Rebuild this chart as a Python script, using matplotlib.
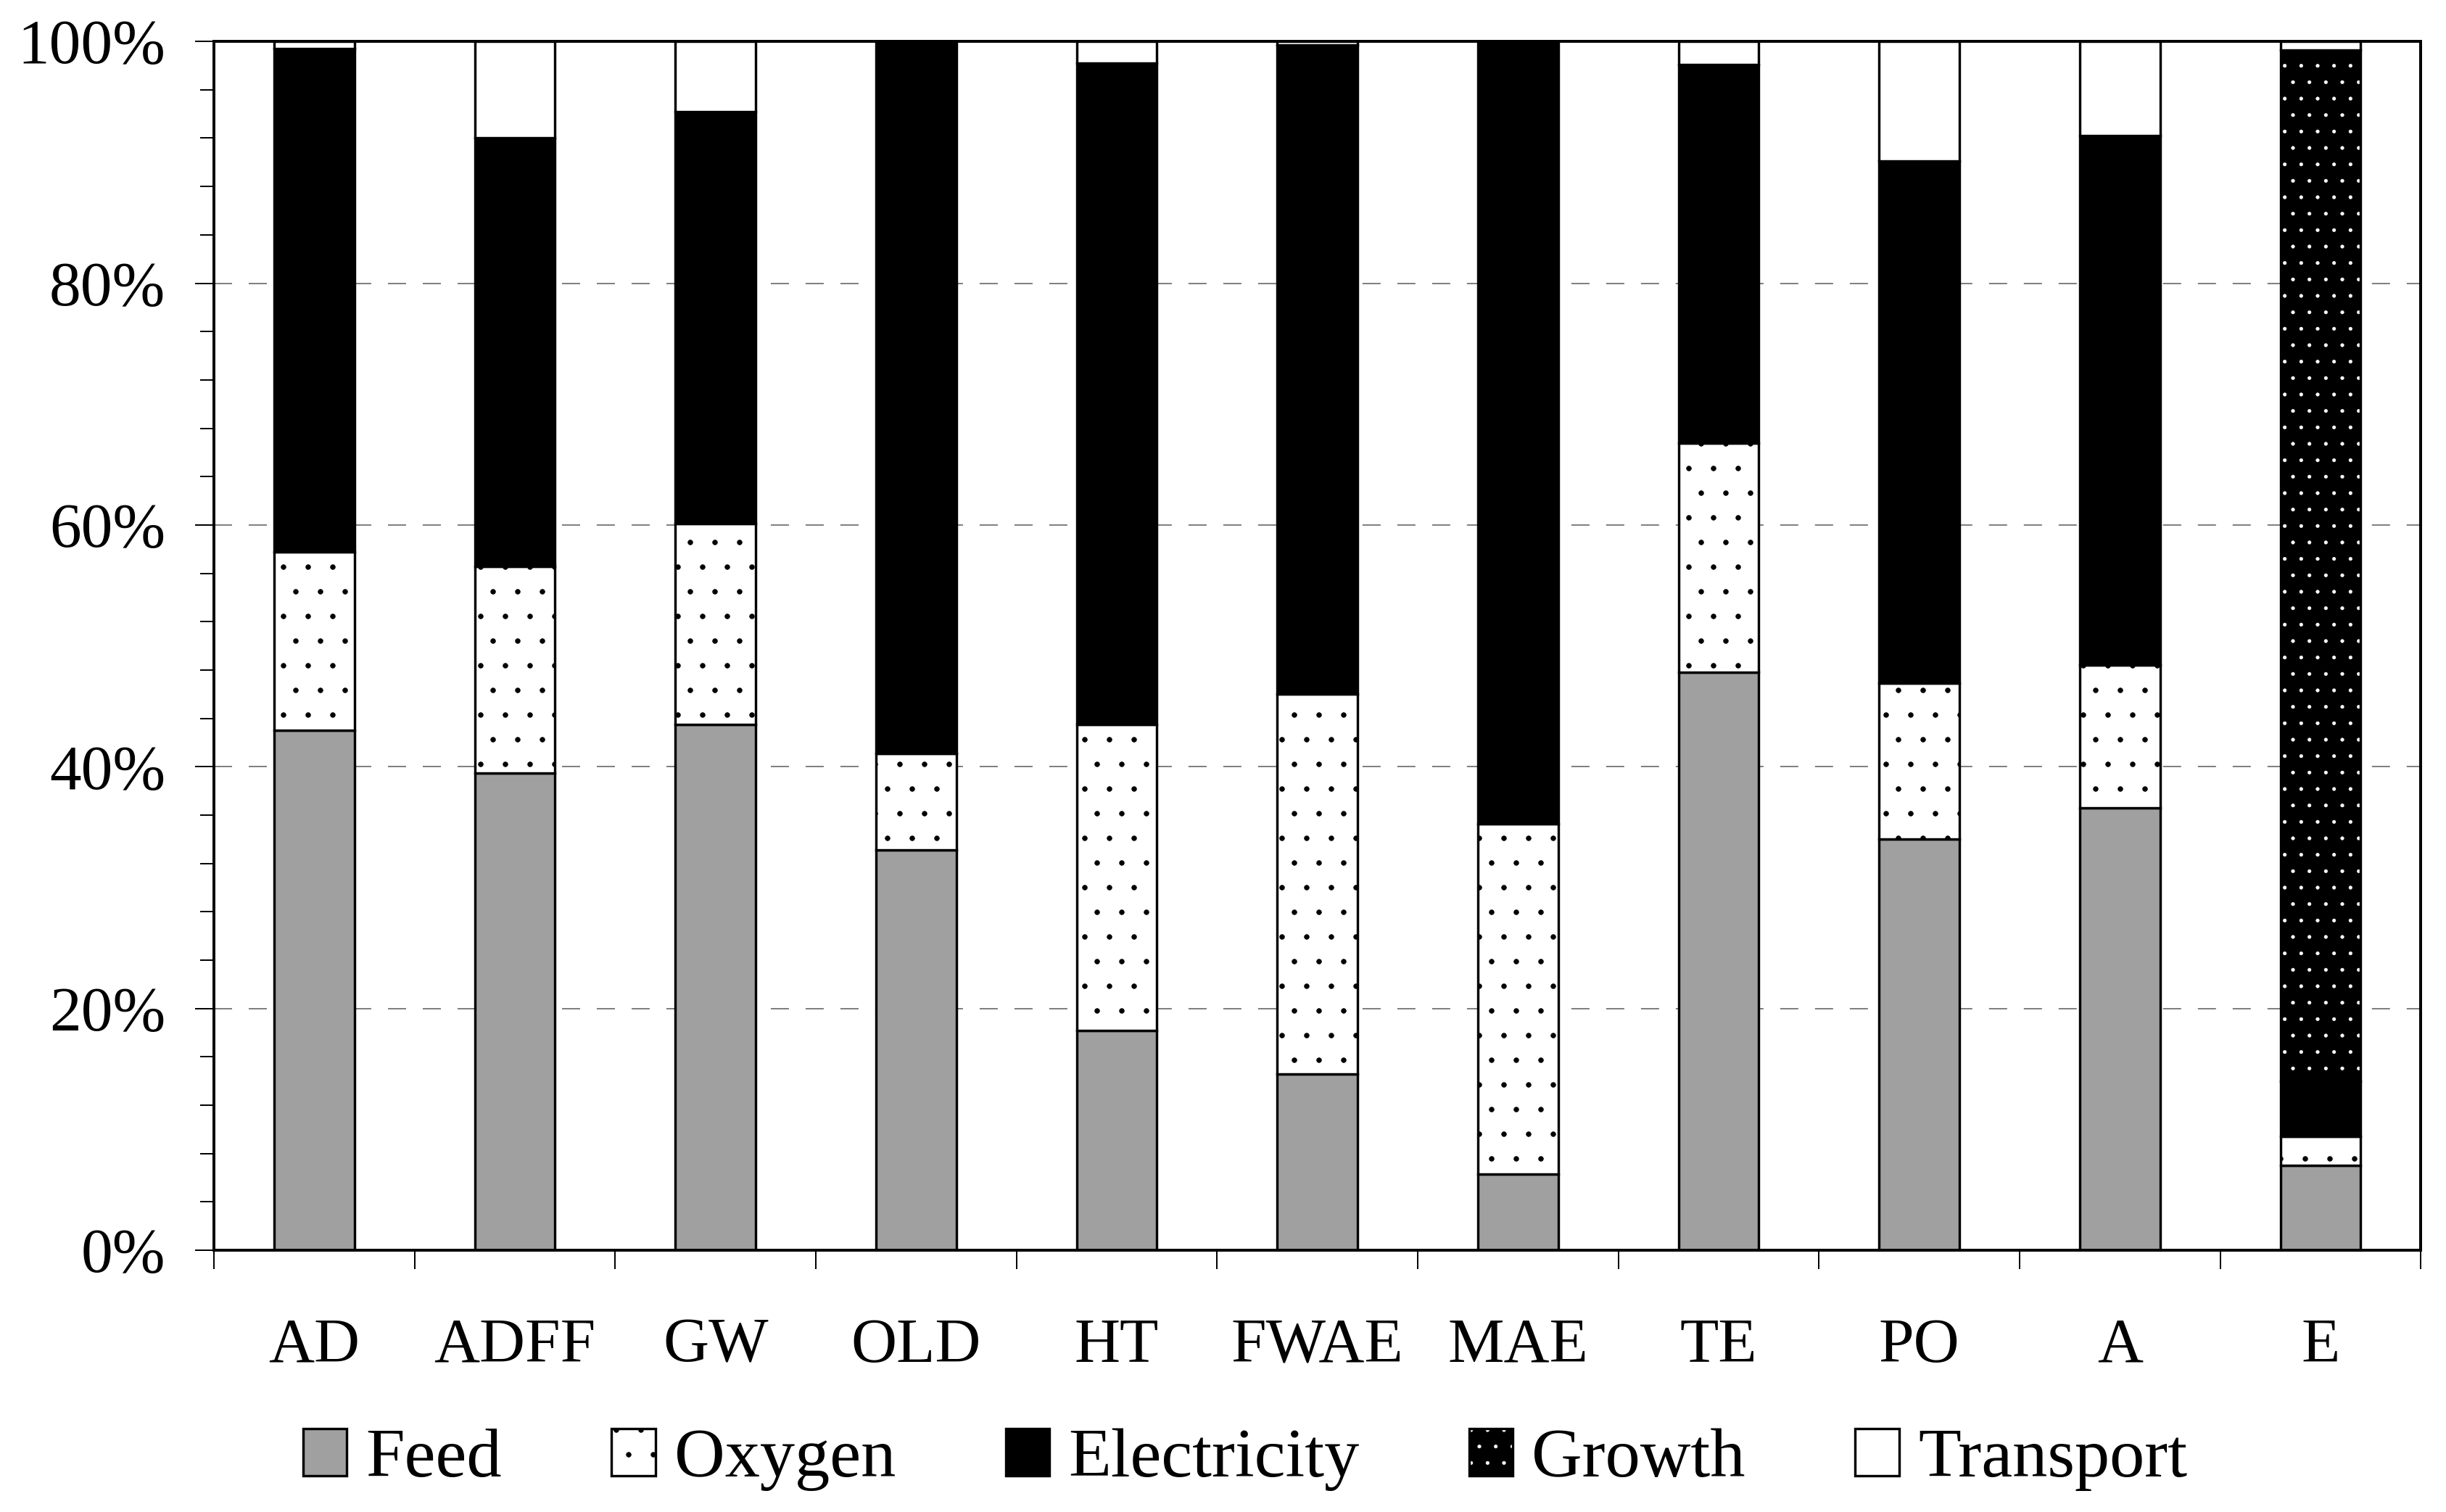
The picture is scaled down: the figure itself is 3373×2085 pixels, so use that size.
import numpy as np
import matplotlib
matplotlib.use("Agg")
import matplotlib.pyplot as plt
from matplotlib.patches import Patch
from matplotlib.ticker import MultipleLocator, PercentFormatter

# Share of each contribution per scenario (%)
categories = ["AD", "ADFF", "GW", "OLD", "HT", "FWAE", "MAE", "TE", "PO", "A", "E"]
series_names = ["Feed", "Oxygen", "Electricity", "Growth", "Transport"]
feed = [43.0, 39.5, 43.5, 33.1, 18.2, 14.6, 6.3, 47.8, 34.0, 36.6, 7.0]
oxygen = [14.8, 17.1, 16.6, 8.0, 25.3, 31.4, 29.0, 19.0, 12.9, 11.8, 2.4]
electricity = [41.6, 35.4, 34.1, 58.9, 54.7, 53.7, 64.7, 31.3, 43.2, 43.8, 4.6]
growth = [0, 0, 0, 0, 0, 0, 0, 0, 0, 0, 85.3]
transport = [0.6, 8.0, 5.8, 0.0, 1.8, 0.3, 0.0, 1.9, 9.9, 7.8, 0.7]

plt.rcParams["font.family"] = ["Liberation Serif", "DejaVu Serif"]
plt.rcParams["hatch.linewidth"] = 0.1

# hatch cell size follows dpi, so dpi is chosen to get the dot spacing right
DPI = 408
fig = plt.figure(figsize=(3373 / DPI, 2085 / DPI), dpi=DPI)
ax = fig.add_axes([0.0875, 0.1731, 0.9022, 0.7995])

x = np.arange(len(categories))
w = 0.4
edge = dict(edgecolor="black", linewidth=0.6)

bottom = np.zeros(len(categories))
ax.bar(x, feed, w, bottom=bottom, color="#a0a0a0", **edge)
bottom += np.array(feed)
ax.bar(x, oxygen, w, bottom=bottom, color="white", hatch="..", **edge)
bottom += np.array(oxygen)
ax.bar(x, electricity, w, bottom=bottom, color="black", **edge)
bottom += np.array(electricity)
# growth: black with white dots, outline drawn separately
ax.bar(x, growth, w, bottom=bottom, color="black", edgecolor="white", linewidth=0, hatch="...")
ax.bar(x, growth, w, bottom=bottom, fill=False, **edge)
bottom += np.array(growth)
ax.bar(x, transport, w, bottom=bottom, color="white", **edge)

ax.set_xlim(-0.5, len(categories) - 0.5)
ax.set_ylim(0, 100)
ax.set_axisbelow(True)
ax.yaxis.grid(True, which="major", color="#808080", linewidth=0.35, linestyle=(0, (12.6, 11.6)))

ax.set_xticks(np.arange(-0.5, len(categories)), labels=[])
ax.set_xticks(x, labels=categories, minor=True)
ax.tick_params(axis="x", which="major", direction="out", length=4.6, width=0.35)
ax.tick_params(axis="x", which="minor", length=0, pad=16.4, labelsize=15.4)

ax.yaxis.set_major_locator(MultipleLocator(20))
ax.yaxis.set_minor_locator(MultipleLocator(4))
ax.yaxis.set_major_formatter(PercentFormatter(decimals=0))
ax.tick_params(axis="y", which="major", length=4.6, width=0.35, pad=7.2, labelsize=15.4)
ax.tick_params(axis="y", which="minor", length=3.35, width=0.35)

for s in ax.spines.values():
    s.set_linewidth(0.7)

handles = [
    Patch(facecolor="#a0a0a0", **edge),
    Patch(facecolor="white", hatch="..", **edge),
    Patch(facecolor="black", **edge),
    (Patch(facecolor="black", edgecolor="white", linewidth=0, hatch="..."),
     Patch(fill=False, **edge)),
    Patch(facecolor="white", **edge),
]
fig.legend(handles, series_names, loc="center", bbox_to_anchor=(0.509, 0.0345),
           ncol=5, frameon=False, fontsize=17, handlelength=0.63, handleheight=0.66,
           handletextpad=0.27, columnspacing=1.57, borderaxespad=0, borderpad=0)

fig.savefig("out.png", dpi=DPI)
